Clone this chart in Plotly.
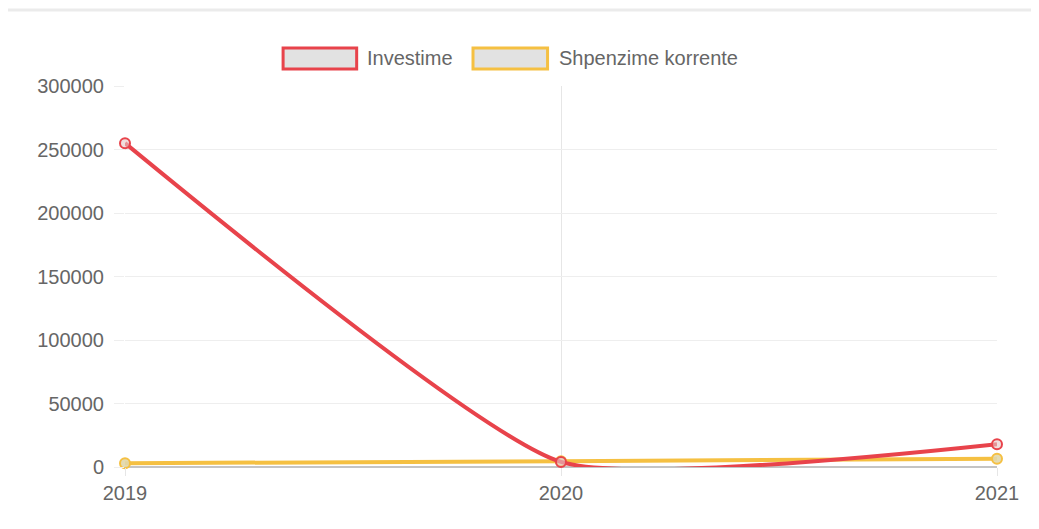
import plotly.graph_objects as go

years = [2019, 2020, 2021]
investime = [255000, 4000, 18000]
shpenzime = [3000, 4500, 6500]
series_names = ["Investime", "Shpenzime korrente"]
y_ticks = [0, 50000, 100000, 150000, 200000, 250000, 300000]

RED = "#e8434b"
YEL = "#f5c042"
FONT = "Liberation Sans, Arial, sans-serif"

fig = go.Figure()
fig.add_trace(go.Scatter(
    x=years, y=shpenzime, name=series_names[1], mode="lines+markers",
    line=dict(color=YEL, width=4, shape="spline", smoothing=0.5),
    marker=dict(size=10, color="rgba(225,215,170,0.9)", line=dict(color=YEL, width=2)),
    cliponaxis=False, showlegend=False))
fig.add_trace(go.Scatter(
    x=years, y=investime, name=series_names[0], mode="lines+markers",
    line=dict(color=RED, width=4, shape="spline", smoothing=0.5),
    marker=dict(size=10, color="rgba(230,200,200,0.6)", line=dict(color=RED, width=2)),
    cliponaxis=False, showlegend=False))

# page has an 8px body margin; work in page pixel coordinates
OFF = 8
W, H = 1023, 513
L, T = 125 - OFF, 86 - OFF
R = W - (1002 - OFF)
B = H - (467 - OFF)
pw, ph = W - L - R, H - T - B

def px(x):
    return (x - OFF - L) / pw

def py(y):
    return 1 + (T - (y - OFF)) / ph

shapes = [
    dict(type="line", xref="paper", yref="paper", x0=px(4), x1=px(1039), y0=py(10), y1=py(10),
         line=dict(color="#ebebeb", width=3)),
    dict(type="rect", xref="paper", yref="paper", x0=px(284), x1=px(358), y0=py(69), y1=py(48),
         fillcolor="#e2e2e2", line=dict(color=RED, width=3)),
    dict(type="rect", xref="paper", yref="paper", x0=px(475), x1=px(550), y0=py(69), y1=py(48),
         fillcolor="#e2e2e2", line=dict(color=YEL, width=3)),
]
annotations = [
    dict(xref="paper", yref="paper", x=px(366), y=py(58), text=series_names[0], showarrow=False,
         xanchor="left", yanchor="middle", font=dict(family=FONT, size=20, color="#666")),
    dict(xref="paper", yref="paper", x=px(559), y=py(58), text=series_names[1], showarrow=False,
         xanchor="left", yanchor="middle", font=dict(family=FONT, size=20, color="#666")),
]

fig.update_layout(
    width=W, height=H, margin=dict(l=L, r=R, t=T, b=B),
    paper_bgcolor="white", plot_bgcolor="white",
    font=dict(family=FONT, size=20, color="#666"),
    shapes=shapes, annotations=annotations,
    xaxis=dict(range=[2019, 2021], tickvals=years, ticktext=[str(y) for y in years],
               showgrid=True, gridcolor="#e6e6e6", gridwidth=1, zeroline=False,
               ticks="outside", ticklen=8, tickcolor="#e6e6e6", showline=False,
               tickfont=dict(size=20, color="#666")),
    yaxis=dict(range=[0, 300000], tickvals=y_ticks, tickformat="d",
               showgrid=True, gridcolor="#eeeeee", gridwidth=1,
               zeroline=True, zerolinecolor="#c4c4c4", zerolinewidth=2,
               ticks="outside", ticklen=10, tickcolor="#eeeeee", showline=False,
               ticklabelstandoff=6, tickfont=dict(size=20, color="#666")),
)

fig.write_html("out.html")
